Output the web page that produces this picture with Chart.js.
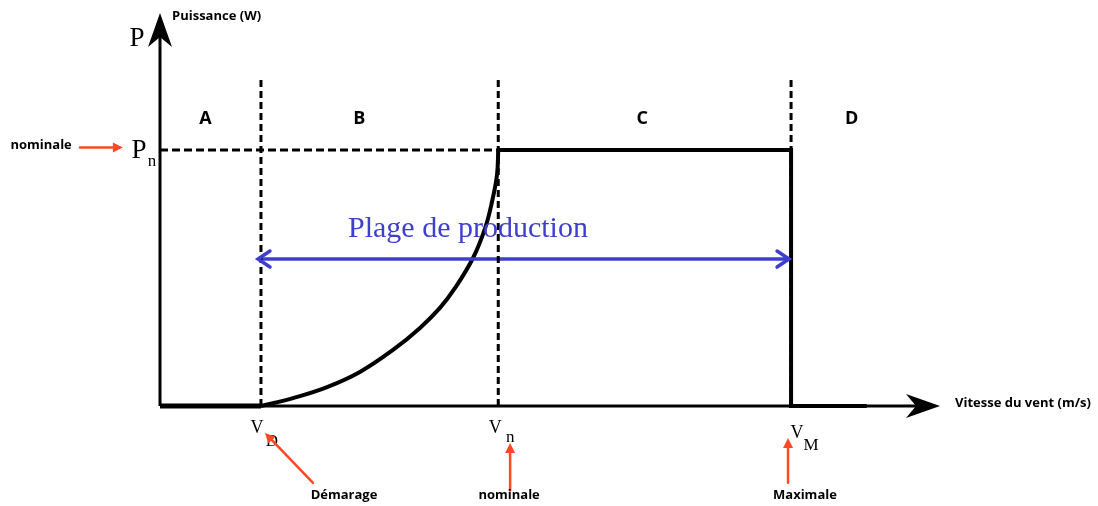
<!DOCTYPE html>
<html>
<head>
<meta charset="utf-8">
<script src="https://cdn.jsdelivr.net/npm/chart.js@4.4.1/dist/chart.umd.min.js"></script>
<style>
  html, body { margin: 0; padding: 0; background: #fff; }
  #wrap { width: 1098px; height: 506px; position: relative; }
</style>
</head>
<body>
<div id="wrap"><canvas id="powerChart"></canvas></div>
<script>
// courbe de puissance (vitesse en m/s, puissance rapportee a Pn)
const startX = [0, 4];
const startY = [0, 0];
const curveX = [4, 5.27, 6.62, 7.92, 9.23, 10.3, 11.09, 11.69, 12.4, 12.88, 13.15, 13.35, 13.4];
const curveY = [0, 0.031, 0.074, 0.133, 0.219, 0.305, 0.383, 0.461, 0.578, 0.695, 0.797, 0.902, 1];
const plateauX = [13.4, 25, 25, 28];
const plateauY = [1, 1, 0, 0];

// vitesses caracteristiques VD, Vn, VM
const speedMarks = [4, 13.4, 25];
const speedSubs = ['D', 'n', 'M'];
const speedNames = ['Démarage', 'nominale', 'Maximale'];
const zoneLabels = ['A', 'B', 'C', 'D'];
const zoneX = [1.8, 7.9, 19.1, 27.4];
const dashTop = 1.28;
const rangeY = 0.574;

const BLUE = 'rgb(62,62,208)';
const RED = 'rgb(255,72,36)';

function pts(xs, ys) {
    return xs.map((x, i) => ({ x: x, y: ys[i] }));
}

const dashSets = speedMarks.map(v => ({
    data: [{ x: v, y: 0 }, { x: v, y: dashTop }],
    borderColor: '#000', borderWidth: 3, borderDash: [7, 4], pointRadius: 0
}));

const annotations = {
    id: 'annotations',
    beforeDatasetsDraw(chart) {
        const ctx = chart.ctx;
        const sx = chart.scales.x, sy = chart.scales.y;
        const x0 = sx.getPixelForValue(0), y0 = sy.getPixelForValue(0);
        ctx.save();
        ctx.strokeStyle = '#000';
        ctx.lineWidth = 3;
        ctx.beginPath();
        ctx.moveTo(x0, y0);
        ctx.lineTo(x0, sy.getPixelForValue(sy.max) + 20);
        ctx.moveTo(x0, y0);
        ctx.lineTo(sx.getPixelForValue(sx.max) - 20, y0);
        ctx.stroke();
        blackHead(ctx, x0, sy.getPixelForValue(sy.max), 0, -1);
        blackHead(ctx, sx.getPixelForValue(sx.max), y0, 1, 0);
        ctx.restore();
    },
    afterDatasetsDraw(chart) {
        const ctx = chart.ctx;
        const sx = chart.scales.x, sy = chart.scales.y;
        const X = v => sx.getPixelForValue(v), Y = v => sy.getPixelForValue(v);
        ctx.save();

        // fleche bleue
        ctx.strokeStyle = BLUE;
        ctx.lineWidth = 3.5;
        ctx.lineCap = 'round';
        const ya = Y(rangeY), xl = X(speedMarks[0]) - 3, xr = X(speedMarks[2]) - 2;
        ctx.beginPath();
        ctx.moveTo(xl + 12, ya - 8); ctx.lineTo(xl, ya); ctx.lineTo(xl + 12, ya + 8);
        ctx.moveTo(xr - 12, ya - 8); ctx.lineTo(xr, ya); ctx.lineTo(xr - 12, ya + 8);
        ctx.stroke();
        ctx.fillStyle = BLUE;
        ctx.font = '30px "Liberation Serif"';
        ctx.textAlign = 'center';
        ctx.textBaseline = 'alphabetic';
        ctx.fillText('Plage de production', X(12.2), Y(0.695) + 9);

        // zones
        ctx.fillStyle = '#000';
        ctx.font = 'bold 18px "Open Sans"';
        ctx.textBaseline = 'middle';
        zoneLabels.forEach((t, i) => ctx.fillText(t, X(zoneX[i]), Y(1.12)));

        // titres des axes
        ctx.font = 'bold 13px "Open Sans"';
        ctx.textAlign = 'left';
        ctx.fillText('Puissance (W)', X(0) + 12, 16);
        ctx.fillText('Vitesse du vent (m/s)', X(sx.max) + 15, Y(0) - 3);

        // P et Pn
        ctx.font = '27px "Liberation Serif"';
        ctx.textAlign = 'center';
        ctx.textBaseline = 'alphabetic';
        ctx.fillText('P', X(0) - 23, 46);
        ctx.fillText('P', X(0) - 21, Y(1) + 8);
        ctx.font = '17px "Liberation Serif"';
        ctx.fillText('n', X(0) - 8, Y(1) + 16);

        // VD, Vn, VM
        const vDx = [-4, -3, 6], vDy = [27, 27, 32];
        const sDx = [11, 12, 20], sDy = [40, 36, 44];
        speedMarks.forEach((v, i) => {
            const xp = X(v);
            ctx.font = '18px "Liberation Serif"';
            ctx.fillText('V', xp + vDx[i], Y(0) + vDy[i]);
            ctx.font = '17px "Liberation Serif"';
            ctx.fillText(speedSubs[i], xp + sDx[i], Y(0) + sDy[i]);
        });

        // fleches rouges
        redArrow(ctx, X(6.06), Y(-0.3), X(4.16), Y(-0.105));
        redArrow(ctx, X(13.87), Y(-0.33), X(13.87), Y(-0.145));
        redArrow(ctx, X(24.88), Y(-0.3), X(24.88), Y(-0.125));
        redArrow(ctx, X(-3.17), Y(1.01), X(-1.47), Y(1.01));

        ctx.fillStyle = '#000';
        ctx.font = 'bold 13px "Open Sans"';
        ctx.textAlign = 'center';
        ctx.textBaseline = 'middle';
        ctx.fillText(speedNames[0], X(7.29), Y(-0.35));
        ctx.fillText(speedNames[1], X(13.83), Y(-0.35));
        ctx.fillText(speedNames[2], X(25.55), Y(-0.35));
        ctx.fillText('nominale', X(-4.71), Y(1.018));
        ctx.restore();
    }
};

function blackHead(ctx, tx, ty, dx, dy) {
    const len = 34, half = 12, notch = 24;
    const px = -dy, py = dx;
    ctx.fillStyle = '#000';
    ctx.beginPath();
    ctx.moveTo(tx, ty);
    ctx.lineTo(tx - dx * len + px * half, ty - dy * len + py * half);
    ctx.lineTo(tx - dx * notch, ty - dy * notch);
    ctx.lineTo(tx - dx * len - px * half, ty - dy * len - py * half);
    ctx.closePath();
    ctx.fill();
}

function redArrow(ctx, x1, y1, x2, y2) {
    const a = Math.atan2(y2 - y1, x2 - x1);
    const len = 10, half = 5;
    ctx.strokeStyle = RED;
    ctx.fillStyle = RED;
    ctx.lineWidth = 2.5;
    ctx.beginPath();
    ctx.moveTo(x1, y1);
    ctx.lineTo(x2 - Math.cos(a) * len, y2 - Math.sin(a) * len);
    ctx.stroke();
    ctx.beginPath();
    ctx.moveTo(x2, y2);
    ctx.lineTo(x2 - Math.cos(a) * len - Math.sin(a) * half, y2 - Math.sin(a) * len + Math.cos(a) * half);
    ctx.lineTo(x2 - Math.cos(a) * len + Math.sin(a) * half, y2 - Math.sin(a) * len - Math.cos(a) * half);
    ctx.closePath();
    ctx.fill();
}

new Chart(document.getElementById('powerChart'), {
    type: 'scatter',
    data: {
        datasets: [
            ...dashSets,
            {
                data: [{ x: 0, y: 1 }, { x: speedMarks[1], y: 1 }],
                borderColor: '#000', borderWidth: 3, borderDash: [8, 4], pointRadius: 0
            },
            {
                data: [{ x: speedMarks[0], y: rangeY }, { x: speedMarks[2], y: rangeY }],
                borderColor: BLUE, borderWidth: 3.5, pointRadius: 0
            },
            { data: pts(startX, startY), borderColor: '#000', borderWidth: 5, pointRadius: 0 },
            {
                data: pts(curveX, curveY), borderColor: '#000', borderWidth: 4, pointRadius: 0,
                tension: 0.4
            },
            { data: pts(plateauX, plateauY), borderColor: '#000', borderWidth: 4, pointRadius: 0 }
        ]
    },
    options: {
        responsive: true,
        maintainAspectRatio: false,
        animation: false,
        showLine: true,
        layout: { padding: { left: 160, right: 158, top: 13, bottom: 100 } },
        datasets: { scatter: { clip: false } },
        scales: {
            x: { type: 'linear', min: 0, max: 30.9, display: false },
            y: { type: 'linear', min: 0, max: 1.535, display: false }
        },
        plugins: { legend: { display: false }, tooltip: { enabled: false } }
    },
    plugins: [annotations]
});
</script>
</body>
</html>
